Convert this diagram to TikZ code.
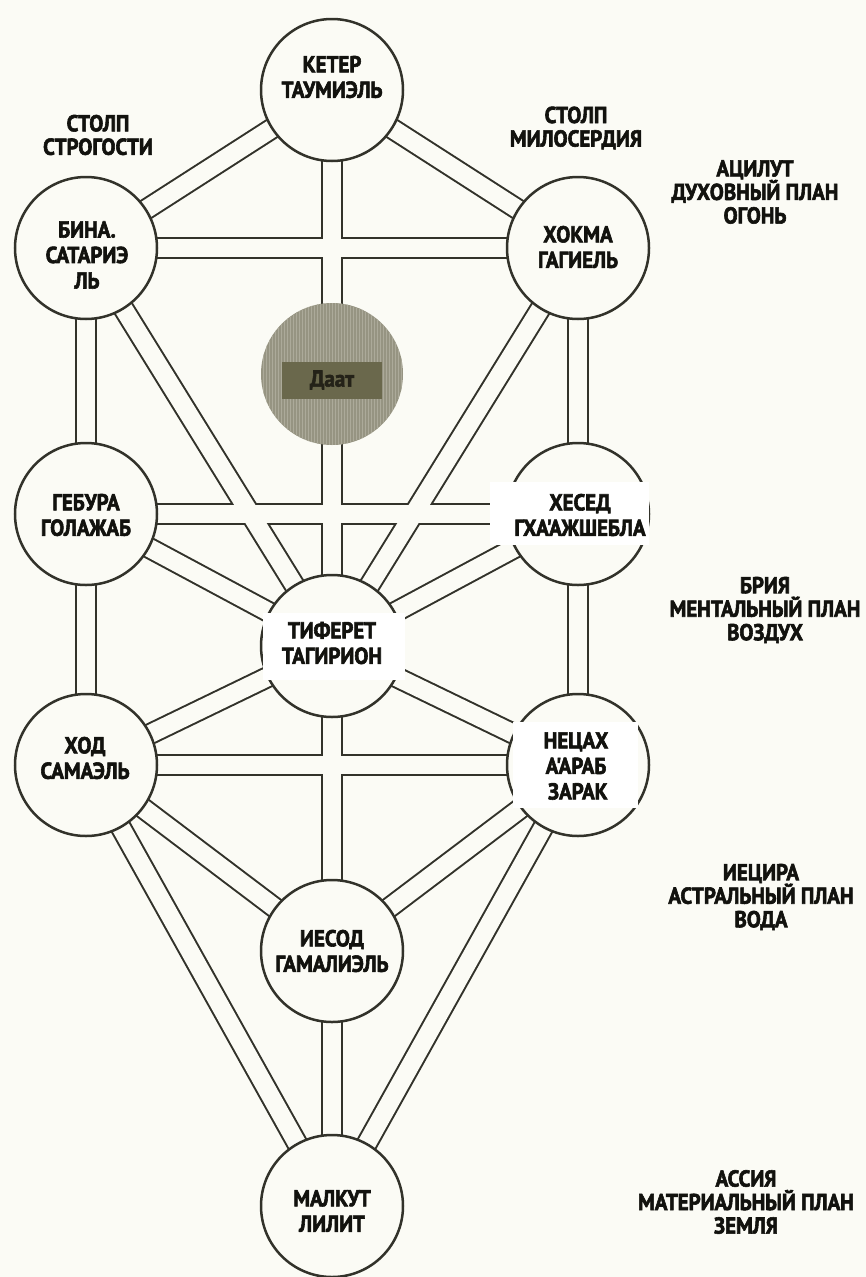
\documentclass[tikz,border=0pt]{standalone}
\usepackage{fontspec}
\newfontfamily\lblfont{PT Sans Bold}[FakeStretch=0.91,FakeBold=2.5]
\definecolor{paper}{RGB}{251,251,245}
\definecolor{ink}{RGB}{50,50,42}
\definecolor{txt}{RGB}{18,18,14}
\definecolor{daatgray}{RGB}{150,148,130}
\definecolor{daatstripe}{RGB}{172,170,154}
\definecolor{daatbox}{RGB}{106,104,76}
\definecolor{daattxt}{RGB}{36,34,24}
\pgfdeclarelayer{bg}
\pgfdeclarelayer{chanB}
\pgfdeclarelayer{chanW}
\pgfsetlayers{bg,chanB,chanW,main}
\begin{document}
\begin{tikzpicture}[x=1pt,y=-1pt,
  sef/.style={circle,draw=ink,line width=2.5pt,fill=paper,minimum size=142pt,inner sep=0pt},
  lbl/.style={font=\lblfont\fontsize{23}{25.5}\selectfont,align=center,text=txt,inner sep=0pt},
  side/.style={font=\lblfont\fontsize{23}{23.5}\selectfont,align=center,text=txt,inner sep=0pt},
  chanout/.style={line width=22pt,draw=ink},
  chanin/.style={line width=18pt,draw=paper},
  patch/.style={fill=white}]
\useasboundingbox (0,0) rectangle (866,1277);
\begin{pgfonlayer}{bg}
  \fill[paper] (0,0) rectangle (866,1277);
\end{pgfonlayer}

% sefirot
\node[sef] (keter)   at (332,90)   {};
\node[sef] (binah)   at (86,248)   {};
\node[sef] (chokmah) at (578,248)  {};
\node[sef] (gevurah) at (86,514)   {};
\node[sef] (chesed)  at (578,514)  {};
\node[sef] (tiferet) at (332,646)  {};
\node[sef] (hod)     at (86,765)   {};
\node[sef] (netzach) at (578,765)  {};
\node[sef] (yesod)   at (332,951)  {};
\node[sef] (malkut)  at (332,1206) {};
\node[circle,minimum size=142pt,inner sep=0pt,fill=daatgray,
  path picture={\foreach \i in {-72,-69,...,72}
    \draw[daatstripe,line width=1pt] ([xshift=\i pt]path picture bounding box.north) -- ([xshift=\i pt]path picture bounding box.south);}]
  (daat) at (332,374) {};

% channels
\begin{pgfonlayer}{chanB}
\foreach \a/\b in {keter/binah,keter/chokmah,keter/tiferet,binah/chokmah,binah/gevurah,binah/tiferet,
  chokmah/chesed,chokmah/tiferet,gevurah/chesed,gevurah/tiferet,chesed/tiferet,gevurah/hod,chesed/netzach,
  tiferet/hod,tiferet/netzach,hod/netzach,tiferet/yesod,hod/yesod,netzach/yesod,hod/malkut,netzach/malkut,yesod/malkut}
  \draw[chanout] (\a.center) -- (\b.center);
\end{pgfonlayer}
\begin{pgfonlayer}{chanW}
\foreach \a/\b in {keter/binah,keter/chokmah,keter/tiferet,binah/chokmah,binah/gevurah,binah/tiferet,
  chokmah/chesed,chokmah/tiferet,gevurah/chesed,gevurah/tiferet,chesed/tiferet,gevurah/hod,chesed/netzach,
  tiferet/hod,tiferet/netzach,hod/netzach,tiferet/yesod,hod/yesod,netzach/yesod,hod/malkut,netzach/malkut,yesod/malkut}
  \draw[chanin] (\a.center) -- (\b.center);
\end{pgfonlayer}

% white patches behind some labels
\fill[patch] (490,482) rectangle (649,545);
\fill[patch] (513,722) rectangle (638,808);
\fill[patch] (263,613) rectangle (405,680);

% labels in the sefirot
\node[lbl] (tK) at (332,77)   {КЕТЕР\\ТАУМИЭЛЬ};
\node[lbl] (tB) at (87,255)   {БИНА.\\САТАРИЭ\\ЛЬ};
\node[lbl] (tC) at (578,247)  {ХОКМА\\ГАГИЕЛЬ};
\node[lbl] (tG) at (86,515)   {ГЕБУРА\\ГОЛАЖАБ};
\node[lbl] (tH) at (580,515)  {ХЕСЕД\\ГХА'АЖШЕБЛА};
\node[lbl] (tT) at (332,643)  {ТИФЕРЕТ\\ТАГИРИОН};
\node[lbl] (tO) at (85,758)   {ХОД\\САМАЭЛЬ};
\node[lbl] (tN) at (576,766)  {НЕЦАХ\\А'АРАБ\\\,ЗАРАК};
\node[lbl] (tY) at (332,951)  {ИЕСОД\\ГАМАЛИЭЛЬ};
\node[lbl] (tM) at (332,1211) {МАЛКУТ\\ЛИЛИТ};
\node[lbl,fill=daatbox,text=daattxt,minimum width=100pt,minimum height=37pt] (tD) at (332,380) {Даат};

% pillars and worlds
\node[side] (pS) at (98,135)   {СТОЛП\\СТРОГОСТИ};
\node[side] (pM) at (576,128)  {СТОЛП\\МИЛОСЕРДИЯ};
\node[side] (wA) at (755,192)  {АЦИЛУТ\\ДУХОВНЫЙ ПЛАН\\ОГОНЬ};
\node[side] (wB) at (765,610)  {БРИЯ\\МЕНТАЛЬНЫЙ ПЛАН\\ВОЗДУХ};
\node[side] (wY) at (761,897)  {ИЕЦИРА\\АСТРАЛЬНЫЙ ПЛАН\\ВОДА};
\node[side] (wS) at (746,1202) {АССИЯ\\МАТЕРИАЛЬНЫЙ ПЛАН\\ЗЕМЛЯ};
\end{tikzpicture}
\end{document}
